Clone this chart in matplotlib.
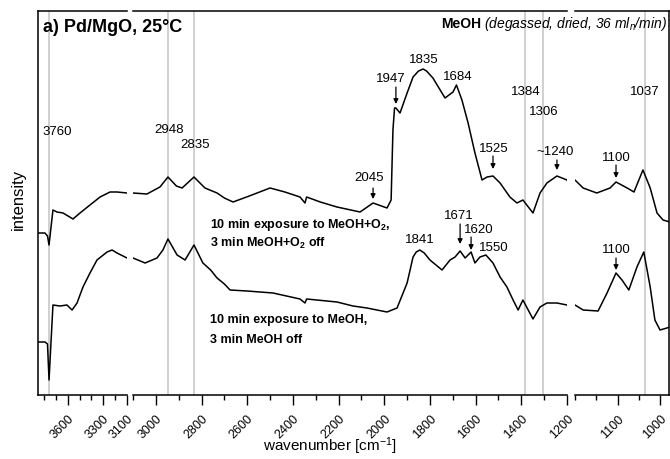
import numpy as np
import matplotlib
matplotlib.use("Agg")
import matplotlib.pyplot as plt

plt.rcParams['font.family'] = ['Liberation Sans', 'DejaVu Sans']
plt.rcParams['mathtext.fontset'] = 'custom'
plt.rcParams['mathtext.rm'] = 'Liberation Sans'
plt.rcParams['mathtext.it'] = 'Liberation Sans:italic'
plt.rcParams['mathtext.bf'] = 'Liberation Sans:bold'

# spectrum after MeOH+O2 (upper trace), wavenumber in cm-1, intensity in a.u.
wn_o2 = [3850, 3791, 3770, 3757, 3724, 3690, 3639, 3555, 3496, 3412, 3327, 3243, 3184, 3100,
         3039, 2982, 2947, 2910, 2885, 2833, 2785, 2732, 2700, 2662, 2591, 2500, 2435, 2369,
         2347, 2340, 2280, 2207, 2106, 2049, 1988, 1970, 1962, 1955, 1949, 1931, 1900, 1874,
         1850, 1830, 1815, 1787, 1734, 1699, 1684, 1660, 1633, 1603, 1572, 1550, 1524, 1493,
         1450, 1419, 1393, 1349, 1318, 1288, 1244, 1200, 1181, 1149, 1118, 1104, 1078, 1062,
         1041, 1024, 1008, 994, 978]
int_o2 = [162, 162, 159, 150, 185, 183, 182, 176, 182, 190, 198, 203, 203, 202,
          201, 208, 218, 209, 207, 218, 207, 202, 197, 193, 199, 207, 203, 198,
          192, 198, 193, 188, 183, 192, 187, 195, 265, 287, 287, 282, 302, 318,
          324, 326, 324, 317, 297, 303, 310, 295, 272, 242, 215, 218, 219, 212,
          198, 192, 195, 182, 202, 212, 219, 215, 207, 202, 207, 213, 207, 203,
          225, 207, 182, 175, 173]

# spectrum after MeOH only (lower trace)
wn_meoh = [3850, 3791, 3770, 3757, 3724, 3665, 3606, 3563, 3521, 3471, 3412, 3353, 3268, 3226,
           3184, 3100, 3047, 2995, 2969, 2947, 2907, 2872, 2833, 2794, 2760, 2732, 2700, 2675,
           2601, 2487, 2369, 2347, 2340, 2207, 2137, 2076, 1988, 1944, 1900, 1874, 1860, 1844,
           1825, 1800, 1747, 1712, 1690, 1668, 1646, 1620, 1603, 1581, 1555, 1524, 1493, 1463,
           1436, 1414, 1393, 1349, 1318, 1288, 1244, 1200, 1181, 1146, 1125, 1104, 1090, 1074,
           1055, 1039, 1024, 1013, 1001, 985, 978]
int_meoh = [53, 53, 51, 15, 90, 89, 90, 85, 92, 108, 122, 135, 143, 145,
            142, 137, 132, 137, 145, 156, 140, 135, 150, 132, 125, 117, 111, 105,
            104, 102, 96, 92, 96, 93, 89, 87, 83, 87, 112, 138, 143, 145,
            142, 135, 125, 135, 138, 144, 137, 143, 132, 138, 140, 132, 118, 108,
            95, 85, 95, 76, 88, 92, 92, 90, 85, 84, 102, 122, 115, 105,
            128, 143, 108, 75, 65, 67, 68]

# marked band positions (grey guide lines)
guides = [3760, 2948, 2835, 1384, 1306, 1037]

# broken wavenumber axis: three panels with their own scale
limits = [(3850, 3100), (3100, 1200), (1200, 980)]
major = [[3600, 3300, 3100], list(range(3000, 1199, -200)), [1100, 1000]]
minor = [[3800, 3700, 3500, 3400, 3200], list(range(3100, 1250, -200)), [1200, 1150, 1050]]

W, H = 670, 459
fig = plt.figure(figsize=(W / 100, H / 100), dpi=100)
boxes = [(38, 127), (133, 567), (575, 669)]
axes = []
for (x0, x1), lim, mj, mn in zip(boxes, limits, major, minor):
    ax = fig.add_axes([x0 / W, (H - 395) / H, (x1 - x0) / W, 384 / H])
    for g in guides:
        if min(lim) <= g <= max(lim):
            ax.axvline(g, color='#c8c8c8', lw=1.2, zorder=1)
    ax.plot(wn_o2, int_o2, color='black', lw=1.1, zorder=3)
    ax.plot(wn_meoh, int_meoh, color='black', lw=1.1, zorder=3)
    ax.set_xlim(*lim)
    ax.set_ylim(0, 384)
    ax.set_yticks([])
    ax.set_xticks(mj)
    ax.set_xticks(mn, minor=True)
    ax.set_xticklabels([str(v) for v in mj], rotation=45, ha='right',
                       rotation_mode='anchor', fontsize=9)
    ax.tick_params(axis='x', which='major', length=7, width=1, pad=6)
    ax.tick_params(axis='x', which='minor', length=3.5, width=1)
    for s in ax.spines.values():
        s.set_linewidth(1.1)
    ax.spines['left'].set_visible(False)
    ax.spines['right'].set_visible(False)
    axes.append(ax)
axes[0].spines['left'].set_visible(True)
axes[2].spines['right'].set_visible(True)
ax1, ax2, ax3 = axes

fs = 9.5
ax1.text(3690, 263, '3760', ha='center', va='center', fontsize=fs)

peak_labels = [(2942, 265, '2948'), (2829, 250, '2835'), (1826, 335, '1835'),
               (1677, 318, '1684'), (1379, 303, '1384'), (1301, 283, '1306'),
               (1844, 155, '1841'), (1520, 147, '1550')]
for x, y, t in peak_labels:
    ax2.text(x, y, t, ha='center', va='center', fontsize=fs)

# labels with arrows: text position, arrow x, arrow start / end
arrow_labels = [(2067, 217, '2045', 2049, 207, 196),
                (1970, 316, '1947', 1949, 308, 291),
                (1520, 246, '1525', 1524, 239, 226),
                (1253, 243, '~1240', 1244, 235, 225),
                (1673, 179, '1671', 1668, 171, 151),
                (1585, 165, '1620', 1620, 158, 145)]
for x, y, t, xa, y0, y1 in arrow_labels:
    ax2.text(x, y, t, ha='center', va='center', fontsize=fs)
    ax2.annotate('', xy=(xa, y1), xytext=(xa, y0),
                 arrowprops=dict(arrowstyle='-|>', color='black', lw=0.9,
                                 mutation_scale=7, shrinkA=0, shrinkB=0))

ax3.text(1036, 303, '1037', ha='center', va='center', fontsize=fs)
for y, y0, y1 in [(237, 230, 217), (145, 137, 125)]:
    ax3.text(1104, y, '1100', ha='center', va='center', fontsize=fs)
    ax3.annotate('', xy=(1104, y1), xytext=(1104, y0),
                 arrowprops=dict(arrowstyle='-|>', color='black', lw=0.9,
                                 mutation_scale=7, shrinkA=0, shrinkB=0))

cond = [(170, r'10 min exposure to MeOH+O$_\mathbf{2}$,'),
        (152, r'3 min MeOH+O$_\mathbf{2}$ off'),
        (75, '10 min exposure to MeOH,'),
        (55, '3 min MeOH off')]
for y, t in cond:
    ax2.text(2763, y, t, ha='left', va='center', fontsize=9, fontweight='bold')

fig.text(43 / W, 1 - 27 / H, 'a) Pd/MgO, 25°C', ha='left', va='center',
         fontsize=13, fontweight='bold')
cap = fig.text(667 / W, 1 - 24 / H, r'(degassed, dried, 36 ml$_n$/min)', ha='right',
               va='center', fontsize=10, style='italic')
fig.canvas.draw()
bb = cap.get_window_extent(fig.canvas.get_renderer())
fig.text((bb.x0 - 3) / W, 1 - 24 / H, 'MeOH', ha='right', va='center',
         fontsize=10, fontweight='bold')

fig.text(330 / W, 1 - 446 / H, r'wavenumber [cm$^{-1}$]', ha='center', va='center',
         fontsize=11)
fig.text(18 / W, 1 - 199 / H, 'intensity', ha='center', va='center', rotation=90,
         fontsize=12)

fig.savefig('out.png', dpi=100)
